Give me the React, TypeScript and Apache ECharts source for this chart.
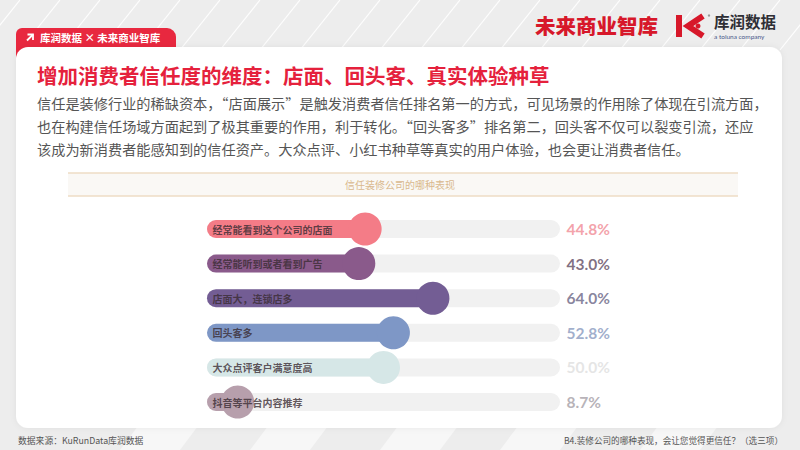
import React, { useEffect, useRef } from "react";
import * as echarts from "echarts";

const categories = [
  "经常能看到这个公司的店面",
  "经常能听到或者看到广告",
  "店面大，连锁店多",
  "回头客多",
  "大众点评客户满意度高",
  "抖音等平台内容推荐",
];
const values = [44.8, 43.0, 64.0, 52.8, 50.0, 8.7];
const barColors = ["#f47c87", "#8a5a8b", "#735d94", "#7e97c6", "#d6e7e7", "#b79fac"];
const valueColors = ["#f08a94", "#5f4b62", "#6a6585", "#8999be", "#dedede", "#a59ea6"];
const axisMax = 100;

const titleText = "增加消费者信任度的维度：店面、回头客、真实体验种草";
const paragraphLines = [
  "信任是装修行业的稀缺资本，“店面展示”是触发消费者信任排名第一的方式，可见场景的作用除了体现在引流方面，",
  "也在构建信任场域方面起到了极其重要的作用，利于转化。“回头客多”排名第二，回头客不仅可以裂变引流，还应",
  "该成为新消费者能感知到的信任资产。大众点评、小红书种草等真实的用户体验，也会更让消费者信任。",
];
const subtitleText = "信任装修公司的哪种表现";
const tabText = "库润数据 × 未来商业智库";
const sourceText = "数据来源：KuRunData库润数据";
const questionText = "B4.装修公司的哪种表现，会让您觉得更信任？（选三项）";

const FONT = "'Noto Sans CJK SC', 'Noto Sans', sans-serif";

function txt(text: string, x: number, y: number, fill: string, fontSize: number, extra: any = {}) {
  return {
    type: "text",
    z: 5,
    style: {
      text,
      x,
      y,
      fill,
      fontSize,
      fontFamily: FONT,
      textAlign: extra.align || "left",
      align: extra.align || "left",
      textVerticalAlign: "middle",
      verticalAlign: "middle",
      fontWeight: extra.fontWeight || "normal",
      ...(extra.style || {}),
    },
  };
}

export default function App() {
  const ref = useRef<HTMLDivElement>(null);

  useEffect(() => {
    if (!ref.current) return;
    const chart = echarts.init(ref.current, undefined, { renderer: "svg" });

    const bgLines: any[] = [];
    for (let x0 = -20; x0 < 820; x0 += 40) {
      bgLines.push({
        type: "line",
        z: 0,
        shape: { x1: x0, y1: 50, x2: x0 + 40, y2: 0 },
        style: { stroke: "#ffffff", lineWidth: 1.2, opacity: 0.9 },
      });
    }
    const bottomStripes: any[] = [];
    [120, 250, 380, 500, 640].forEach((x0) => {
      bottomStripes.push({
        type: "polygon",
        z: 0,
        shape: { points: [[x0, 450], [x0 + 60, 450], [x0 + 78, 426], [x0 + 18, 426]] },
        style: { fill: "#ffffff", opacity: 0.55 },
      });
    });

    const red = "#d7182a";

    const option: any = {
      animation: false,
      backgroundColor: "#ededed",
      textStyle: { fontFamily: FONT },
      graphic: [
        ...bgLines,
        ...bottomStripes,
        {
          type: "rect",
          z: 1,
          shape: { x: 16, y: 28, width: 160, height: 30, r: [6, 9, 0, 0] },
          style: { fill: "#e8283f" },
        },
        {
          type: "rect",
          z: 2,
          shape: { x: 16, y: 47, width: 766, height: 381, r: 12 },
          style: { fill: "#ffffff", shadowBlur: 6, shadowColor: "rgba(0,0,0,0.06)" },
        },
        {
          type: "polyline",
          z: 3,
          shape: { points: [[27.5, 34.5], [33, 34.5], [33, 40]] },
          style: { stroke: "#ffffff", lineWidth: 1.8, fill: null },
        },
        {
          type: "line",
          z: 3,
          shape: { x1: 33, y1: 34.5, x2: 27, y2: 40.5 },
          style: { stroke: "#ffffff", lineWidth: 1.8 },
        },
        txt(tabText, 40, 37.5, "#ffffff", 10.5, { fontWeight: "bold" }),
        txt("未来商业智库", 535, 25, red, 20.5, { fontWeight: 900 }),
        {
          type: "rect",
          z: 5,
          shape: { x: 676, y: 15, width: 6, height: 22 },
          style: { fill: red },
        },
        {
          type: "polyline",
          z: 5,
          shape: { points: [[703, 16], [688, 26], [703, 36]] },
          style: { stroke: red, lineWidth: 6, fill: null, lineJoin: "miter" },
        },
        {
          type: "circle",
          z: 5,
          shape: { cx: 698, cy: 26, r: 2.5 },
          style: { fill: red },
        },
        {
          type: "circle",
          z: 5,
          shape: { cx: 709, cy: 15.5, r: 1.2 },
          style: { fill: "#999999" },
        },
        txt("库润数据", 714, 21, "#2f2f35", 15.5, { fontWeight: "bold" }),
        txt("a toluna company", 714, 36, "#4a5a8c", 6.5, { style: { fontFamily: "Lato, sans-serif" } }),
        txt(titleText, 37, 75, "#e5213c", 20.5, { fontWeight: "bold" }),
        ...paragraphLines.map((line, i) => txt(line, 37, 103 + i * 23, "#555555", 14.2)),
        {
          type: "rect",
          z: 3,
          shape: { x: 68, y: 173, width: 670, height: 23 },
          style: { fill: "#faf8f5" },
        },
        {
          type: "line",
          z: 4,
          shape: { x1: 68, y1: 173, x2: 738, y2: 173 },
          style: { stroke: "#eedcc5", lineWidth: 1.5 },
        },
        {
          type: "line",
          z: 4,
          shape: { x1: 68, y1: 196, x2: 738, y2: 196 },
          style: { stroke: "#eedcc5", lineWidth: 1.5 },
        },
        txt(subtitleText, 400, 184.5, "#d9b98e", 10, { align: "center" }),
        txt(sourceText, 18, 440, "#555555", 8.8),
        txt(questionText, 783, 440, "#555555", 8.6, { align: "right" }),
      ],
      grid: { left: 207, right: 240, top: 211.7, bottom: 30.7, containLabel: false },
      xAxis: { type: "value", min: 0, max: axisMax, show: false },
      yAxis: {
        type: "category",
        data: categories,
        inverse: true,
        show: false,
      },
      series: [
        {
          type: "bar",
          silent: true,
          barWidth: 18,
          z: 2,
          showBackground: true,
          backgroundStyle: { color: "#f1f1f1", borderRadius: 9 },
          itemStyle: { borderRadius: 9 },
          data: values.map((v, i) => ({ value: v, itemStyle: { color: barColors[i] } })),
        },
        {
          type: "scatter",
          silent: true,
          z: 3,
          symbol: "circle",
          symbolSize: 33,
          data: values.map((v, i) => ({ value: [v, i], itemStyle: { color: barColors[i], opacity: 1 } })),
        },
        {
          type: "scatter",
          silent: true,
          z: 4,
          symbolSize: 1,
          itemStyle: { color: "rgba(0,0,0,0)" },
          label: {
            show: true,
            position: "right",
            distance: 5,
            fontSize: 10,
            fontWeight: "bold",
            color: "#3a2c33",
            fontFamily: FONT,
            formatter: (p: any) => categories[p.dataIndex],
          },
          data: categories.map((c, i) => ({ value: [0, i] })),
        },
        {
          type: "scatter",
          silent: true,
          z: 4,
          symbolSize: 1,
          itemStyle: { color: "rgba(0,0,0,0)" },
          label: {
            show: true,
            position: "right",
            distance: 6,
            fontSize: 15.5,
            fontWeight: "bold",
            fontFamily: "Lato, sans-serif",
            formatter: (p: any) => values[p.dataIndex].toFixed(1) + "%",
          },
          data: values.map((v, i) => ({
            value: [axisMax, i],
            label: { color: valueColors[i] },
          })),
        },
      ],
    };

    chart.setOption(option);
    return () => chart.dispose();
  }, []);

  return (
    <div
      ref={ref}
      style={{ position: "fixed", left: 0, top: 0, width: 800, height: 450 }}
    />
  );
}
